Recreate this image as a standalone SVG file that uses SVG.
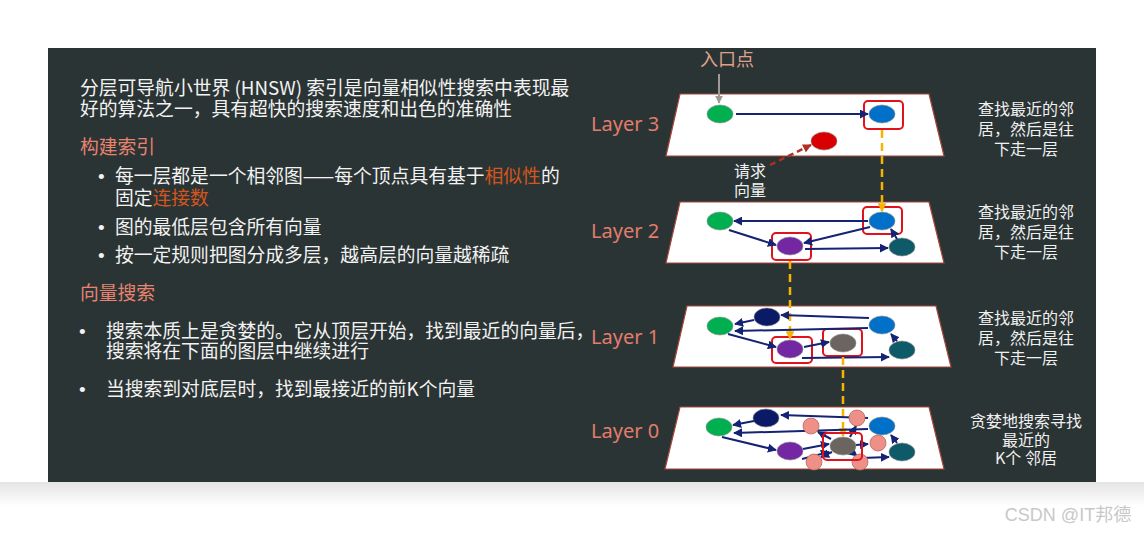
<svg xmlns="http://www.w3.org/2000/svg" width="1144" height="534" viewBox="0 0 1144 534">
<defs>
<style>
.cn{font-family:"Noto Sans CJK SC","Noto Sans",sans-serif;}
.body{fill:#f2f2f2;font-size:18.8px;}
.head{fill:#e8836f;font-size:18.8px;}
.bul{font-family:"Liberation Sans",sans-serif;fill:#f2f2f2;font-size:19px;}
.hl{fill:#d4561e;}
.lay{font-family:"Noto Sans","Noto Sans CJK SC",sans-serif;fill:#e27c6c;font-size:20px;}
.note{fill:#f0f0f0;font-size:16px;text-anchor:middle;}
.plane{fill:#ffffff;stroke:#a8473a;stroke-width:1.2;}
.box{fill:none;stroke:#e0121c;stroke-width:2;}
.edge{stroke:#142373;stroke-width:2;fill:none;marker-end:url(#ah);}
.ydash{stroke:#f5b400;stroke-width:2.5;stroke-dasharray:8 5;fill:none;}
.n{stroke:#8a8a8a;stroke-width:0.6;}
.g{fill:#00b050;}.b{fill:#0070c8;}.r{fill:#d80000;}.p{fill:#7427a3;}.t{fill:#0f5a68;}.nv{fill:#0a1a66;}.gr{fill:#6b645f;}.s{fill:#ee9088;stroke:#b46a62;stroke-width:0.8;}
</style>
<marker id="ah" viewBox="0 0 10 10" refX="9" refY="5" markerWidth="4.5" markerHeight="4.5" orient="auto"><path d="M0,0L10,5L0,10z" fill="#142373"/></marker>
<marker id="ay" viewBox="0 0 10 10" refX="9" refY="5" markerWidth="3.5" markerHeight="3.5" orient="auto"><path d="M0,0L10,5L0,10z" fill="#f5b400"/></marker>
<marker id="ag" viewBox="0 0 10 10" refX="9" refY="5" markerWidth="4" markerHeight="4" orient="auto"><path d="M0,0L10,5L0,10z" fill="#a09a96"/></marker>
<marker id="ar" viewBox="0 0 10 10" refX="9" refY="5" markerWidth="3.5" markerHeight="3.5" orient="auto"><path d="M0,0L10,5L0,10z" fill="#b03022"/></marker>
<linearGradient id="sh" x1="0" y1="0" x2="0" y2="1"><stop offset="0" stop-color="#e4e4e4"/><stop offset="1" stop-color="#ffffff"/></linearGradient>
</defs>
<rect x="0" y="0" width="1144" height="534" fill="#ffffff"/>
<rect x="0" y="482" width="1144" height="24" fill="url(#sh)"/>
<rect id="panel" x="48" y="48" width="1048" height="434" fill="#2b3434"/>

<g id="intro" class="cn body">
<text x="80" y="95">分层可导航小世界 (HNSW) 索引是向量相似性搜索中表现最</text>
<text x="80" y="116">好的算法之一，具有超快的搜索速度和出色的准确性</text>
</g>
<g id="build" class="cn">
<text class="head" x="80" y="154">构建索引</text>
<text class="bul" x="98" y="183">•</text>
<text class="body" x="115" y="183">每一层都是一个相邻图——每个顶点具有基于<tspan class="hl">相似性</tspan>的</text>
<text class="body" x="115" y="205">固定<tspan class="hl">连接数</tspan></text>
<text class="bul" x="98" y="234">•</text>
<text class="body" x="115" y="234">图的最低层包含所有向量</text>
<text class="bul" x="98" y="262">•</text>
<text class="body" x="115" y="262">按一定规则把图分成多层，越高层的向量越稀疏</text>
</g>
<g id="search" class="cn">
<text class="head" x="80" y="300">向量搜索</text>
<text class="bul" x="79" y="338">•</text>
<text class="body" x="106" y="338">搜索本质上是贪婪的。它从顶层开始，找到最近的向量后，</text>
<text class="body" x="106" y="358">搜索将在下面的图层中继续进行</text>
<text class="bul" x="79" y="396">•</text>
<text class="body" x="106" y="396">当搜索到对底层时，找到最接近的前K个向量</text>
</g>

<g id="labels">
<text class="lay" x="591" y="131">Layer 3</text>
<text class="lay" x="591" y="238">Layer 2</text>
<text class="lay" x="591" y="344">Layer 1</text>
<text class="lay" x="591" y="438">Layer 0</text>
</g>

<g id="layer3">
<polygon class="plane" points="680,94 929,94 944,156 666,156"/>
<ellipse class="n g" cx="720" cy="114" rx="13" ry="9"/>
<ellipse class="n b" cx="882" cy="114" rx="13" ry="9"/>
<ellipse class="n r" cx="824" cy="141" rx="13" ry="9"/>
<rect class="box" x="864" y="101" width="39" height="28" rx="4"/>
</g>
<g id="layer2">
<polygon class="plane" points="680,202 929,202 944,263 666,263"/>
<ellipse class="n g" cx="720" cy="221" rx="13" ry="9"/>
<ellipse class="n b" cx="882" cy="221" rx="13" ry="9"/>
<ellipse class="n p" cx="790" cy="246" rx="13" ry="9"/>
<ellipse class="n t" cx="902" cy="247" rx="13" ry="9"/>
<rect class="box" x="863" y="207" width="39" height="27" rx="4"/>
<rect class="box" x="772" y="233" width="39" height="27" rx="4"/>
</g>
<g id="layer1">
<polygon class="plane" points="687,306 936,306 951,367 673,367"/>
<ellipse class="n nv" cx="767" cy="317" rx="13" ry="9"/>
<ellipse class="n g" cx="720" cy="326" rx="13" ry="9"/>
<ellipse class="n b" cx="882" cy="325" rx="13" ry="9"/>
<ellipse class="n p" cx="790" cy="349" rx="13" ry="9"/>
<ellipse class="n gr" cx="843" cy="343" rx="13" ry="9"/>
<ellipse class="n t" cx="902" cy="350" rx="13" ry="9"/>
<rect class="box" x="772" y="337" width="40" height="26" rx="4"/>
<rect class="box" x="823" y="329" width="39" height="27" rx="4"/>
</g>
<g id="layer0">
<polygon class="plane" points="680,407 929,407 944,469 665,469"/>
<ellipse class="n nv" cx="766" cy="418" rx="13" ry="9"/>
<ellipse class="n g" cx="719" cy="427" rx="13" ry="9"/>
<ellipse class="n b" cx="882" cy="426" rx="13" ry="9"/>
<ellipse class="n p" cx="790" cy="451" rx="13" ry="9"/>
<ellipse class="n t" cx="902" cy="452" rx="13" ry="9"/>
</g>

<g id="connectors">
<line class="edge" x1="736" y1="114" x2="868" y2="114"/>
<line x1="719" y1="74" x2="719" y2="103" stroke="#a09a96" stroke-width="2" marker-end="url(#ag)"/>
<line x1="770" y1="165" x2="811" y2="145" stroke="#b03022" stroke-width="2.5" stroke-dasharray="6 4" marker-end="url(#ar)"/>
<line class="ydash" x1="882" y1="130" x2="882" y2="211" marker-end="url(#ay)"/>
<line class="edge" x1="868" y1="221" x2="734" y2="221"/>
<line class="edge" x1="729" y1="230" x2="776" y2="245"/>
<line class="edge" x1="870" y1="227" x2="804" y2="243"/>
<line class="edge" x1="805" y1="249" x2="888" y2="248"/>
<line class="edge" x1="897" y1="239" x2="891" y2="229"/>
<line class="ydash" x1="790" y1="261" x2="790" y2="339" marker-end="url(#ay)"/>
<line class="edge" x1="754" y1="320" x2="735" y2="324"/>
<line class="edge" x1="869" y1="318" x2="781" y2="315"/>
<line class="edge" x1="868" y1="328" x2="735" y2="331"/>
<line class="edge" x1="728" y1="334" x2="776" y2="347"/>
<line class="edge" x1="804" y1="347" x2="829" y2="342"/>
<line class="edge" x1="802" y1="358" x2="889" y2="357"/>
<line class="edge" x1="897" y1="341" x2="891" y2="334"/>
<line class="ydash" x1="843" y1="357" x2="843" y2="436" marker-end="url(#ay)"/>
<line class="edge" x1="754" y1="421" x2="733" y2="425"/>
<line class="edge" x1="868" y1="418" x2="781" y2="415"/>
<line class="edge" x1="868" y1="429" x2="734" y2="433"/>
<line class="edge" x1="722" y1="437" x2="776" y2="450"/>
<line class="edge" x1="803" y1="449" x2="829" y2="444"/>
<line class="edge" x1="802" y1="459" x2="829" y2="452"/>
<line class="edge" x1="862" y1="458" x2="889" y2="457"/>
<line class="edge" x1="897" y1="443" x2="891" y2="435"/>
<line class="edge" x1="831" y1="439" x2="818" y2="432"/>
<line class="edge" x1="850" y1="437" x2="856" y2="426"/>
<line class="edge" x1="856" y1="445" x2="868" y2="444"/>
<line class="edge" x1="832" y1="452" x2="821" y2="457"/>
<line class="edge" x1="852" y1="452" x2="857" y2="456"/>
</g>
<g id="layer0-overlay">
<ellipse class="n gr" cx="843" cy="446" rx="13" ry="9"/>
<circle class="s" cx="811" cy="426" r="8"/>
<circle class="s" cx="857" cy="418" r="8"/>
<circle class="s" cx="878" cy="443" r="8"/>
<circle class="s" cx="814" cy="462" r="8"/>
<circle class="s" cx="860" cy="462" r="8"/>
<rect class="box" x="823" y="433" width="39" height="27" rx="4"/>
</g>

<g id="notes" class="cn note">
<text x="1026" y="115">查找最近的邻</text>
<text x="1026" y="135">居，然后是往</text>
<text x="1026" y="155">下走一层</text>
<text x="1026" y="218">查找最近的邻</text>
<text x="1026" y="238">居，然后是往</text>
<text x="1026" y="258">下走一层</text>
<text x="1026" y="324">查找最近的邻</text>
<text x="1026" y="344">居，然后是往</text>
<text x="1026" y="364">下走一层</text>
<text x="1026" y="427">贪婪地搜索寻找</text>
<text x="1026" y="446">最近的</text>
<text x="1026" y="464">K个 邻居</text>
</g>
<g id="callouts" class="cn">
<text x="727" y="66" font-size="18" fill="#dfa08b" text-anchor="middle">入口点</text>
<text x="750" y="177" font-size="16" fill="#f0f0f0" text-anchor="middle">请求</text>
<text x="750" y="196" font-size="16" fill="#f0f0f0" text-anchor="middle">向量</text>
</g>
<text x="1068" y="521" font-family="'Liberation Sans','Noto Sans CJK SC',sans-serif" font-size="18" fill="#c8c8c8" text-anchor="middle">CSDN @IT邦德</text>
</svg>
